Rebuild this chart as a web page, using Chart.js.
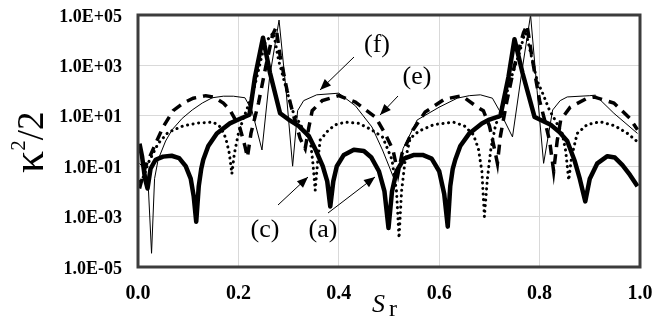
<!DOCTYPE html>
<html>
<head>
<meta charset="utf-8">
<script src="https://cdn.jsdelivr.net/npm/chart.js@4.4.1/dist/chart.umd.min.js"></script>
<style>
html,body{margin:0;padding:0;background:#fff;}
canvas{display:block;}
</style>
</head>
<body>
<canvas id="c" width="664" height="327"></canvas>
<script>
// ---- Data ----
const yTickValues = [1e-5, 1e-3, 1e-1, 1e1, 1e3, 1e5];
const xTickValues = [0, 0.2, 0.4, 0.6, 0.8, 1.0];

// (a) thick solid
const xA = [0.003,0.008,0.014,0.019,0.025,0.035,0.05,0.067,0.082,0.095,0.105,0.111,0.116,0.121,0.126,0.13,0.14,0.157,0.183,0.2,0.222,0.233,0.249,0.263,0.283,0.3,0.32,0.34,0.355,0.368,0.377,0.383,0.389,0.396,0.41,0.43,0.45,0.465,0.48,0.491,0.499,0.506,0.515,0.53,0.55,0.567,0.585,0.6,0.61,0.617,0.622,0.627,0.632,0.642,0.66,0.685,0.7,0.722,0.738,0.75,0.766,0.79,0.822,0.84,0.855,0.87,0.88,0.891,0.9,0.915,0.935,0.95,0.965,0.98,0.995];
const yA = [0.79,0.25,0.032,0.013,0.079,0.18,0.24,0.26,0.21,0.1,0.032,0.0063,0.00063,0.016,0.079,0.18,0.63,2.0,5.0,7.1,11,350,12600,500,12.6,7.1,4.0,1.6,0.4,0.1,0.025,0.0025,0.025,0.1,0.28,0.45,0.4,0.22,0.063,0.01,0.00035,0.01,0.063,0.2,0.28,0.28,0.2,0.063,0.0079,0.0004,0.016,0.079,0.18,0.63,2.0,5.0,7.1,10,350,11000,500,8.9,4.4,2.2,1.0,0.16,0.032,0.004,0.032,0.13,0.25,0.22,0.11,0.045,0.016];

// (c) dotted
const xC = [0.003,0.012,0.02,0.03,0.04,0.06,0.09,0.12,0.15,0.165,0.175,0.182,0.187,0.192,0.2,0.21,0.229,0.253,0.27,0.28,0.307,0.325,0.343,0.348,0.353,0.358,0.363,0.38,0.395,0.413,0.44,0.465,0.487,0.497,0.506,0.515,0.52,0.525,0.532,0.542,0.56,0.59,0.628,0.65,0.668,0.678,0.685,0.69,0.696,0.703,0.712,0.73,0.745,0.76,0.772,0.782,0.795,0.806,0.82,0.831,0.845,0.852,0.858,0.864,0.875,0.895,0.921,0.95,0.975,0.995];
const yC = [0.025,0.04,0.13,0.32,0.79,2.2,4.0,5.2,5.6,3.5,1.26,0.32,0.05,0.32,2.0,7.9,79,7900,20000,1600,17,4.0,1.1,0.16,0.011,0.16,1.1,2.8,4.5,5.6,5.0,2.8,1.45,0.5,0.18,0.01,0.00014,0.01,0.16,1.26,2.5,4.5,5.6,4.0,1.8,0.5,0.063,0.001,0.032,0.5,4.0,40,400,3200,25000,3200,250,79,16,6.8,2.0,0.4,0.028,0.25,2.0,4.5,5.8,4.0,2.0,0.93];

// (e) dashed
const xE = [0.003,0.015,0.025,0.035,0.05,0.07,0.09,0.11,0.135,0.15,0.17,0.183,0.203,0.213,0.218,0.225,0.24,0.255,0.268,0.275,0.283,0.297,0.31,0.323,0.333,0.34,0.347,0.367,0.4,0.433,0.473,0.492,0.508,0.518,0.526,0.548,0.572,0.61,0.645,0.676,0.688,0.7,0.71,0.716,0.722,0.735,0.75,0.768,0.775,0.785,0.8,0.81,0.82,0.828,0.835,0.842,0.861,0.895,0.908,0.948,0.98,0.995];
const yE = [0.013,0.1,0.28,0.79,3.6,16,32,50,63,56,32,17,3.3,0.63,0.23,2.0,32,1000,16000,32000,2500,100,10,1.26,0.5,3.2,16,40,63,35,8.9,2.0,0.44,0.05,0.32,2.8,14,45,63,22,16,4.0,0.5,0.13,1.6,40,1000,20000,40000,2000,40,6.8,1.0,0.063,1.0,6.8,22,50,56,32,7.9,2.8];

// (f) thin solid
const xF = [0.003,0.012,0.02,0.027,0.033,0.04,0.055,0.068,0.088,0.108,0.128,0.148,0.17,0.19,0.213,0.227,0.247,0.262,0.281,0.295,0.308,0.318,0.33,0.356,0.4,0.433,0.466,0.487,0.5,0.512,0.52,0.528,0.556,0.6,0.636,0.66,0.682,0.706,0.72,0.746,0.765,0.782,0.795,0.808,0.826,0.841,0.855,0.9,0.911,0.948,0.995];
const yF = [0.13,0.079,0.025,0.000035,0.032,0.18,1.0,2.8,7.9,17,32,52,60,60,52,16,0.44,320,63000,100,0.1,16,40,68,79,25,3.6,0.44,0.1,0.025,0.063,0.5,6.8,22,50,63,68,50,16,1.45,630,100000,100,0.13,17,40,56,63,66,12.6,2.0];

const labels = ['(a)', '(c)', '(e)', '(f)'];

function pts(xs, ys){ return xs.map((x,i)=>({x:x, y:ys[i]})); }

const SERIF = '"Liberation Serif", "Times New Roman", serif';

const frame = {
  id:'frame',
  afterDatasetsDraw(chart){
    const {ctx, chartArea:a} = chart;
    ctx.save();
    ctx.strokeStyle = '#3c3c3c';
    ctx.lineWidth = 3;
    ctx.strokeRect(a.left, a.top, a.right - a.left, a.bottom - a.top);
    ctx.restore();
  }
};

function arrow(ctx, x1, y1, x2, y2){
  ctx.beginPath();
  ctx.moveTo(x1, y1); ctx.lineTo(x2, y2);
  ctx.lineWidth = 1; ctx.strokeStyle = '#000'; ctx.stroke();
  const ang = Math.atan2(y2 - y1, x2 - x1);
  const L = 11, W = 4.5;
  ctx.beginPath();
  ctx.moveTo(x2, y2);
  ctx.lineTo(x2 - L*Math.cos(ang) + W*Math.sin(ang), y2 - L*Math.sin(ang) - W*Math.cos(ang));
  ctx.lineTo(x2 - L*Math.cos(ang) - W*Math.sin(ang), y2 - L*Math.sin(ang) + W*Math.cos(ang));
  ctx.closePath();
  ctx.fillStyle = '#000'; ctx.fill();
}

const notes = {
  id:'notes',
  afterDraw(chart){
    const ctx = chart.ctx;
    ctx.save();
    ctx.fillStyle = '#000';
    ctx.font = '26px ' + SERIF;
    ctx.textAlign = 'center';
    ctx.textBaseline = 'middle';
    ctx.fillText(labels[3], 377, 45);
    ctx.fillText(labels[2], 417, 77);
    ctx.fillText(labels[1], 265, 230);
    ctx.fillText(labels[0], 323, 230);
    arrow(ctx, 354, 57, 320, 90);
    arrow(ctx, 398, 96, 380, 115);
    arrow(ctx, 278, 205, 308, 177);
    arrow(ctx, 328, 213, 375, 177);

    // x-axis title: S (italic) with subscript r
    ctx.textAlign = 'left';
    ctx.textBaseline = 'alphabetic';
    ctx.font = 'italic 26px ' + SERIF;
    ctx.fillText('S', 372, 312);
    ctx.font = '24px ' + SERIF;
    ctx.fillText('r', 389, 316);

    // y-axis title: kappa^2/2 rotated
    ctx.translate(43, 173);
    ctx.rotate(-Math.PI/2);
    ctx.font = '44px ' + SERIF;
    ctx.fillText('\u03BA', 0, 0);
    let w = ctx.measureText('\u03BA').width;
    ctx.font = '21px ' + SERIF;
    ctx.fillText('2', w, -18);
    w += ctx.measureText('2').width;
    ctx.font = '37px ' + SERIF;
    ctx.fillText('/2', w, 0);
    ctx.restore();
  }
};

function expLabel(v){
  const e = Math.round(Math.log10(v));
  return '1.0E' + (e < 0 ? '-' : '+') + String(Math.abs(e)).padStart(2, '0');
}

function noPad(s){ s.paddingTop = 0; s.paddingBottom = 0; s.paddingLeft = 0; s.paddingRight = 0; }

new Chart(document.getElementById('c'), {
  type:'line',
  data:{
    datasets:[
      {label:labels[0], data:pts(xA,yA), borderColor:'#000', borderWidth:4.5, pointRadius:0, tension:0, borderJoinStyle:'round'},
      {label:labels[1], data:pts(xC,yC), borderColor:'#000', borderWidth:3, pointRadius:0, tension:0, borderDash:[0.1,5.5], borderCapStyle:'round'},
      {label:labels[2], data:pts(xE,yE), borderColor:'#000', borderWidth:3.5, pointRadius:0, tension:0, borderDash:[10,7]},
      {label:labels[3], data:pts(xF,yF), borderColor:'#000', borderWidth:1, pointRadius:0, tension:0}
    ]
  },
  options:{
    responsive:false,
    animation:false,
    layout:{padding:{left:0, right:24, top:15, bottom:0}},
    plugins:{legend:{display:false}, tooltip:{enabled:false}},
    scales:{
      x:{
        type:'linear', min:0, max:1,
        afterBuildTicks(s){ s.ticks = xTickValues.map(v=>({value:v})); },
        afterFit(s){ s.height = 60; noPad(s); },
        ticks:{callback:v=>Number(v).toFixed(1), color:'#000', padding:15, maxRotation:0,
               font:{family:SERIF, size:20, weight:'bold'}},
        grid:{color:'#d9d9d9', lineWidth:1, drawTicks:false},
        border:{display:false}
      },
      y:{
        type:'logarithmic', min:1e-5, max:1e5,
        afterBuildTicks(s){ s.ticks = yTickValues.map(v=>({value:v})); },
        afterFit(s){ s.width = 138; noPad(s); },
        ticks:{callback:v=>expLabel(v), color:'#000', padding:16, labelOffset:2,
               font:{family:SERIF, size:18, weight:'bold'}},
        grid:{color:'#d9d9d9', lineWidth:1, drawTicks:false},
        border:{display:false}
      }
    }
  },
  plugins:[frame, notes]
});
</script>
</body>
</html>
